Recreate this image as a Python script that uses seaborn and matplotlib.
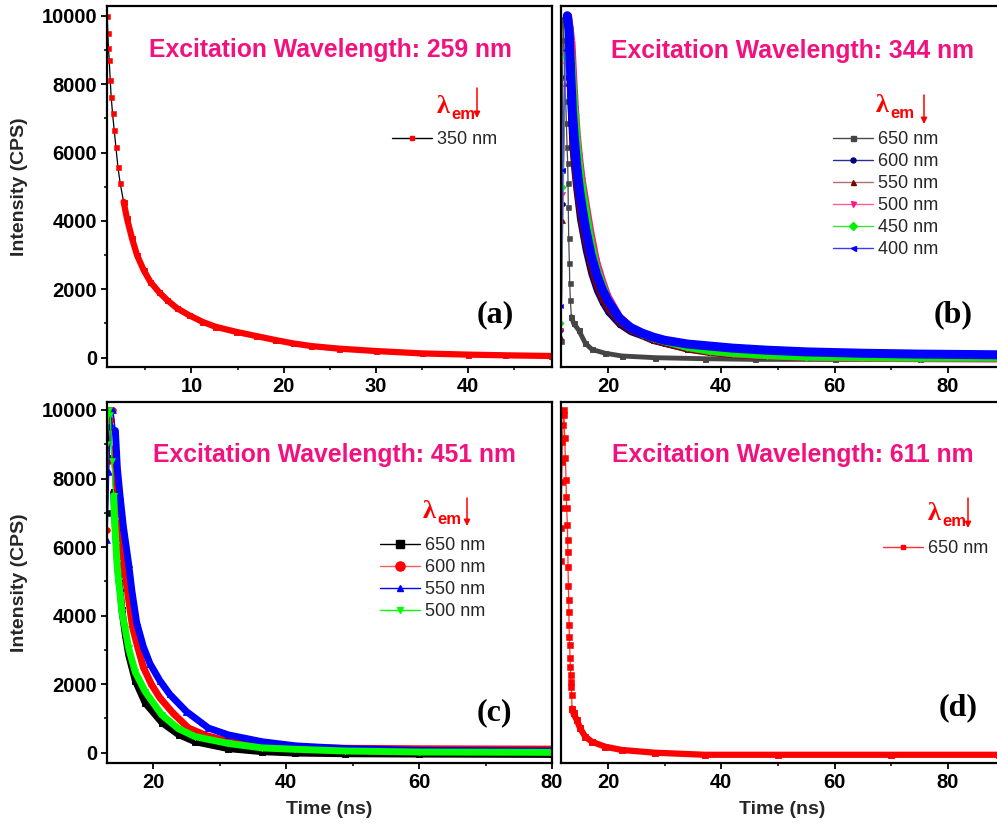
import matplotlib
matplotlib.use("Agg")
import matplotlib.pyplot as plt
from matplotlib.lines import Line2D
from matplotlib.ticker import MultipleLocator
import pandas as pd
import seaborn as sns

# ---------------------------------------------------------------------------
# Photoluminescence decay data: time (ns) and intensity (counts per second)
# ---------------------------------------------------------------------------

# (a) excitation 259 nm, emission 350 nm
t_a_350 = [0.87, 0.94, 1.01, 1.09, 1.20, 1.30, 1.45, 1.63, 1.81, 2.03, 2.28, 2.65,
           3.01, 3.56, 4.10, 4.82, 5.54, 6.45, 7.36, 8.45, 9.71, 11.16, 12.6, 14.8,
           17.0, 19.1, 21.0, 23.0, 26.0, 30.0, 35.0, 40.0, 44.0, 49.0]
i_a_350 = [10000, 9485, 9046, 8705, 8120, 7632, 7146, 6658, 6170, 5585, 5099, 4561,
           4074, 3490, 3003, 2564, 2222, 1930, 1687, 1444, 1248, 1053, 906, 760,
           635, 517, 420, 340, 265, 195, 125, 90, 70, 50]

# (b) excitation 344 nm
t_b_650 = [11.70, 11.85, 12.05, 12.20, 12.40, 12.52, 12.64, 12.76, 12.87, 12.93, 12.97,
           13.05, 13.17, 13.23, 13.34, 13.52, 13.93, 14.81, 15.99, 17.16, 19.51, 22.45,
           28.33, 37.15, 45.97, 60.0, 75.0, 89.0]
i_b_650 = [500, 5500, 9900, 9300, 8200, 7500, 6850, 6170, 5680, 5100, 4420,
           3490, 2760, 2170, 1690, 1200, 1000, 810, 420, 240, 130, 50,
           0, -30, -50, -50, -50, -50]

t_b = [11.7, 12.0, 12.4, 12.8, 13.1, 13.4, 13.7, 14.0, 14.3, 14.6, 15.0, 15.5, 16.0,
       17.0, 18.0, 19.0, 20.0, 22.0, 24.0, 26.0, 28.0, 30.0, 34.0, 38.0, 42.0, 48.0,
       55.0, 65.0, 75.0, 89.0]
i_b_600 = [800, 4500, 8200, 9700, 8900, 7100, 6100, 5500, 5000, 4600, 4050, 3600, 3150,
           2450, 1950, 1600, 1320, 960, 740, 620, 480, 400, 250, 160, 100, 50,
           20, 0, -10, -10]
i_b_550 = [600, 4000, 8000, 9800, 9200, 7400, 6300, 5650, 5150, 4750, 4250, 3750, 3350,
           2600, 2080, 1700, 1420, 1020, 780, 640, 500, 400, 230, 130, 70, 20,
           -10, -30, -40, -40]
i_b_500 = [800, 4800, 8600, 9900, 10000, 9600, 9200, 8200, 7300, 6600, 5900, 5200, 4700,
           3700, 2850, 2300, 1820, 1230, 900, 680, 560, 470, 290, 170, 100, 40,
           0, -30, -40, -50]
i_b_450 = [1000, 5000, 8800, 9900, 9900, 9300, 8700, 7900, 7100, 6500, 5700, 5050, 4550,
           3500, 2700, 2200, 1760, 1200, 880, 670, 540, 450, 280, 170, 100, 40,
           0, -20, -30, -30]
i_b_400 = [1500, 5500, 9000, 10000, 9600, 8300, 7200, 6500, 5900, 5400, 4850, 4300, 3800,
           3000, 2420, 1980, 1660, 1150, 880, 720, 600, 510, 400, 340, 280, 220,
           170, 130, 105, 85]

# (c) excitation 451 nm
t_c_650 = [13.05, 13.30, 13.50, 13.80, 14.04, 14.30, 14.54, 14.79, 15.04, 15.29, 15.79,
           16.30, 17.30, 18.80, 21.30, 23.80, 26.30, 31.30, 36.40, 41.40, 48.90, 60.0, 80.0]
i_c_650 = [7000, 9500, 10000, 8600, 7600, 6600, 5800, 5100, 4700, 4150, 3450,
           2850, 2100, 1450, 880, 530, 320, 120, 30, -10, -30, -40, -50]
t_c_600 = [13.05, 13.30, 13.60, 14.00, 14.30, 14.70, 15.10, 15.50, 16.20, 16.90, 17.70,
           18.50, 19.70, 21.00, 23.00, 25.30, 28.00, 31.30, 36.40, 41.40, 48.90, 60.0, 80.0]
i_c_600 = [6500, 8500, 9700, 10000, 8900, 7500, 6500, 5600, 4600, 3650, 3050,
           2500, 2000, 1600, 1150, 720, 500, 330, 210, 160, 130, 115, 105]
t_c_550 = [13.05, 13.30, 13.60, 13.90, 14.30, 14.60, 15.00, 15.50, 16.30, 16.80, 17.50,
           18.50, 19.50, 21.00, 22.50, 25.00, 28.30, 31.30, 36.40, 41.40, 48.90, 60.0, 80.0]
i_c_550 = [6200, 8200, 9600, 10000, 9400, 8300, 7500, 6600, 5500, 4700, 3800,
           3100, 2600, 2100, 1700, 1200, 720, 520, 320, 200, 120, 70, 50]
t_c_500 = [13.05, 13.30, 13.54, 13.79, 14.04, 14.19, 14.39, 14.54, 14.79, 15.04, 15.29,
           15.79, 16.30, 17.30, 18.80, 21.30, 23.80, 26.30, 31.30, 36.40, 41.40, 48.90,
           60.0, 80.0]
i_c_500 = [9000, 10000, 9850, 8500, 7500, 6750, 6050, 5550, 5000, 4600, 4100,
           3600, 3050, 2350, 1780, 1100, 700, 470, 270, 140, 100, 50,
           20, 10]

# (d) excitation 611 nm, emission 650 nm
t_d_650 = [11.60, 11.69, 11.75, 11.81, 11.87, 11.93, 12.05, 12.16, 12.22, 12.34, 12.46,
           12.58, 12.63, 12.69, 12.81, 12.87, 12.90, 12.93, 12.99, 13.05, 13.08, 13.11,
           13.16, 13.22, 13.28, 13.34, 13.40, 13.46, 13.52, 13.57, 13.63, 13.90, 14.49,
           15.08, 15.96, 17.14, 19.49, 22.43, 28.30, 37.10, 50.0, 70.0, 89.0]
i_d_650 = [5600, 6550, 7130, 7910, 8490, 9080, 9560, 10000, 9850, 9170, 8590,
           7960, 7470, 7130, 6640, 6210, 5870, 5430, 4850, 4460, 4120, 3730,
           3390, 3140, 2750, 2510, 2270, 2070, 1930, 1680, 1290, 1150, 950,
           710, 470, 320, 175, 80, 0, -60, -60, -60, -60]

em_labels = ["650 nm", "600 nm", "550 nm", "500 nm", "450 nm", "400 nm"]
titles = ["Excitation Wavelength: 259 nm", "Excitation Wavelength: 344 nm",
          "Excitation Wavelength: 451 nm", "Excitation Wavelength: 611 nm"]
panel_tags = ["(a)", "(b)", "(c)", "(d)"]

# ---------------------------------------------------------------------------
sns.set_theme(style="ticks")
plt.rcParams["font.family"] = ["Liberation Sans", "DejaVu Sans"]
plt.rcParams["font.weight"] = "bold"
plt.rcParams["axes.labelweight"] = "bold"

W, H = 997, 827
fig = plt.figure(figsize=(W / 100, H / 100), dpi=100)
fig.patch.set_facecolor("white")


def add_ax(left, right, top, bottom):
    return fig.add_axes([left / W, 1 - bottom / H, (right - left) / W, (bottom - top) / H])


ax_a = add_ax(107, 552, 6, 367)
ax_b = add_ax(560.5, 1004.5, 6, 367)
ax_c = add_ax(107, 552, 402, 763)
ax_d = add_ax(560.5, 1004.5, 402, 763)

TITLE_PINK = "#F2127F"


def draw_decay(ax, t, y, line_color, mark_color, marker, ms, band_from, band_lw,
               line_lw=0.9):
    df = pd.DataFrame({"t": t, "I": y})
    sns.lineplot(data=df, x="t", y="I", ax=ax, color=line_color, lw=line_lw,
                 marker=marker, markersize=ms, markerfacecolor=mark_color,
                 markeredgecolor=mark_color, markeredgewidth=0.4,
                 estimator=None, sort=False, legend=False)
    dense = df[df["t"] >= band_from]
    sns.lineplot(data=dense, x="t", y="I", ax=ax, color=mark_color, lw=band_lw,
                 marker=marker, markersize=ms, markerfacecolor=mark_color,
                 markeredgecolor=mark_color, markeredgewidth=0.4,
                 estimator=None, sort=False, legend=False)


def style_axes(ax, xlim, ylim, xmaj, xmin, show_y):
    ax.set_xlim(*xlim)
    ax.set_ylim(*ylim)
    ax.xaxis.set_major_locator(MultipleLocator(xmaj))
    ax.xaxis.set_minor_locator(MultipleLocator(xmin))
    if show_y:
        ax.yaxis.set_major_locator(MultipleLocator(2000))
        ax.yaxis.set_minor_locator(MultipleLocator(1000))
    else:
        ax.set_yticks([])
    ax.tick_params(which="major", direction="out", length=4, width=1.3,
                   labelsize=14.5, pad=3, colors="black")
    ax.tick_params(which="minor", direction="out", length=2.5, width=1.3)
    for sp in ax.spines.values():
        sp.set_linewidth(1.6)
        sp.set_color("black")
        sp.set_visible(True)
    ax.set_xlabel("")
    ax.set_ylabel("")
    ax.set_facecolor("white")


def add_legend(ax, entries, x_px, top_px):
    handles, labels = [], []
    for lab, lc, mc, mk, ms in entries:
        handles.append(Line2D([], [], color=lc, lw=1.0, marker=mk, markersize=ms,
                              markerfacecolor=mc, markeredgecolor=mc))
        labels.append(lab)
    ax.legend(handles, labels, loc="upper left",
              bbox_to_anchor=(x_px / W, 1 - top_px / H), bbox_transform=fig.transFigure,
              frameon=False, prop={"family": "Liberation Sans", "size": 13, "weight": "normal"},
              handlelength=2.2, handletextpad=0.3, labelspacing=0.28,
              borderpad=0, borderaxespad=0)


def lambda_em(ax, x_px, base_px, arrow_x, arrow_top, arrow_bot):
    fig.text(x_px / W, 1 - base_px / H, "λ", fontsize=19, color="red",
             family="Liberation Serif", weight="bold", ha="left", va="baseline")
    fig.text((x_px + 14) / W, 1 - (base_px + 6) / H, "em", fontsize=12, color="red",
             weight="bold", ha="left", va="baseline")
    ax.annotate("", xy=(arrow_x, H - arrow_bot), xytext=(arrow_x, H - arrow_top),
                xycoords="figure pixels", textcoords="figure pixels",
                arrowprops=dict(arrowstyle="-|>", color="red", lw=1.1,
                                mutation_scale=9, shrinkA=0, shrinkB=0))


def headings(ax, title, tx, ty, tag, gx, gy):
    ax.text(tx, ty, title, transform=ax.transAxes, ha="center", va="baseline",
            fontsize=17.8, color=TITLE_PINK, weight="bold")
    ax.text(gx, gy, tag, transform=ax.transAxes, ha="center", va="center",
            fontsize=23, family="Liberation Serif", weight="bold", color="black")


# ---- (a)
draw_decay(ax_a, t_a_350, i_a_350, "black", "#FF0000", "s", 3.6, 2.4, 4.5)
style_axes(ax_a, (0.85, 49.1), (-272, 10284), 10, 5, True)
add_legend(ax_a, [("350 nm", "black", "#FF0000", "s", 3.5)], 392, 131)
lambda_em(ax_a, 437, 113, 477, 88, 118)
headings(ax_a, titles[0], 0.501, 0.858, panel_tags[0], 0.872, 0.144)
ax_a.set_ylabel("Intensity (CPS)", fontsize=14, weight="bold")
ax_a.yaxis.set_label_coords(-0.178, 0.5)

# ---- (b)
b_series = [
    (t_b_650, i_b_650, "#4A4A4A", "#454545", "s", 3.6, 13.5, 3.5),
    (t_b, i_b_600, "#2A2A9A", "#000080", "o", 3.0, 12.8, 4.0),
    (t_b, i_b_550, "#B07070", "#7A0000", "^", 3.0, 12.8, 4.0),
    (t_b, i_b_500, "#FF5C9E", "#FF1A80", "v", 3.0, 12.8, 4.5),
    (t_b, i_b_450, "#33E633", "#00F000", "D", 2.8, 12.8, 4.0),
    (t_b, i_b_400, "#3B3BFF", "#0000FF", "<", 3.0, 12.8, 6.5),
]
for t, y, lc, mc, mk, ms, bf, blw in b_series:
    draw_decay(ax_b, t, y, lc, mc, mk, ms, bf, blw)
style_axes(ax_b, (11.6, 90), (-272, 10284), 20, 10, False)
add_legend(ax_b, [(lab, s[2], s[3], s[4], 3.6) for lab, s in zip(em_labels, b_series)],
           833, 131)
lambda_em(ax_b, 876, 112, 924, 95, 124)
headings(ax_b, titles[1], 0.522, 0.855, panel_tags[1], 0.884, 0.144)

# ---- (c)
c_series = [
    (t_c_650, i_c_650, "black", "black", "s", 4.2, 14.0, 5.0, 6.0),
    (t_c_600, i_c_600, "#FF5A5A", "#FF0000", "o", 4.2, 14.3, 5.0, 6.6),
    (t_c_550, i_c_550, "#0000FF", "#0000FF", "^", 4.2, 14.3, 5.0, 4.6),
    (t_c_500, i_c_500, "#00FF00", "#00FF00", "v", 4.2, 13.8, 5.0, 4.6),
]
for t, y, lc, mc, mk, ms, bf, blw, lms in c_series:
    draw_decay(ax_c, t, y, lc, mc, mk, ms, bf, blw)
style_axes(ax_c, (13.04, 80), (-300, 10233), 20, 10, True)
add_legend(ax_c, [(lab, s[2], s[3], s[4], s[8]) for lab, s in zip(em_labels, c_series)],
           380, 537)
lambda_em(ax_c, 423, 518, 467, 498, 526)
headings(ax_c, titles[2], 0.51, 0.834, panel_tags[2], 0.87, 0.139)
ax_c.set_ylabel("Intensity (CPS)", fontsize=14, weight="bold")
ax_c.yaxis.set_label_coords(-0.178, 0.5)
ax_c.set_xlabel("Time (ns)", fontsize=14, weight="bold")
ax_c.xaxis.set_label_coords(0.5, -0.105)

# ---- (d)
draw_decay(ax_d, t_d_650, i_d_650, "#FF3030", "#FF0000", "s", 3.8, 13.6, 4.5)
style_axes(ax_d, (11.6, 90), (-300, 10233), 20, 10, False)
add_legend(ax_d, [("650 nm", "#FF3030", "#FF0000", "s", 3.5)], 883, 540)
lambda_em(ax_d, 928, 520, 968, 498, 528)
headings(ax_d, titles[3], 0.524, 0.834, panel_tags[3], 0.896, 0.152)
ax_d.set_xlabel("Time (ns)", fontsize=14, weight="bold")
ax_d.xaxis.set_label_coords(0.5, -0.105)

for ax in (ax_a, ax_b, ax_c, ax_d):
    for lbl in ax.get_xticklabels() + ax.get_yticklabels():
        lbl.set_fontweight("bold")

fig.savefig("out.png", dpi=100, facecolor="white")
